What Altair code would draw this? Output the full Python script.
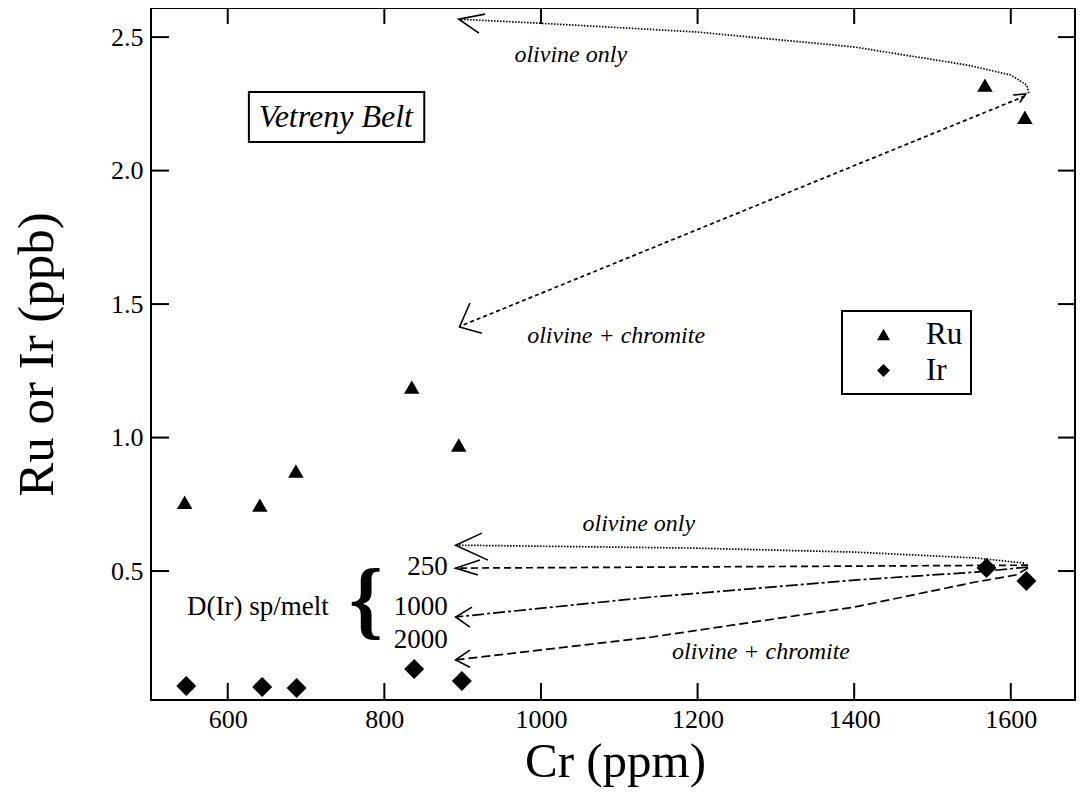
import altair as alt
import pandas as pd

# ---------------- data ----------------
ru_cr = [545, 641, 687, 835, 895, 1567, 1618]
ru_ppb = [0.758, 0.747, 0.875, 1.189, 0.972, 2.320, 2.200]
ir_cr = [547, 644, 688, 838, 899, 1569, 1620]
ir_ppb = [0.069, 0.066, 0.062, 0.133, 0.088, 0.511, 0.463]

x_ticks = [600, 800, 1000, 1200, 1400, 1600]
y_ticks = [0.5, 1.0, 1.5, 2.0, 2.5]
x_domain = [502, 1682]
y_domain = [0.017, 2.609]

# model paths (Cr ppm, ppb)
path_ru_olivine = [[1623, 2.290], [1620.5, 2.320], [1600, 2.358], [1545, 2.395],
                   [1400, 2.463], [1200, 2.519], [999, 2.552], [895, 2.567]]
path_ru_chromite = [[1618, 2.279], [896, 1.416]]
path_ir_olivine = [[1617, 0.530], [1555, 0.549], [1400, 0.571], [1194, 0.586], [891, 0.597]]
path_ir_250 = [[1622, 0.522], [1300, 0.517], [891, 0.511]]
path_ir_1000 = [[1622, 0.515], [1555, 0.496], [1400, 0.466], [1142, 0.403], [891, 0.328]]
path_ir_2000 = [[1622, 0.511], [1606, 0.485], [1555, 0.459], [1400, 0.365], [1142, 0.253], [891, 0.167]]

# arrow heads: barb, tip, barb
heads = [
    [[928.5, 2.586], [895, 2.567], [920.8, 2.515]],
    [[909.3, 1.504], [896, 1.414], [924.6, 1.391]],
    [[1603, 2.283], [1619, 2.287], [1611.5, 2.255]],
    [[924.6, 0.642], [891, 0.597], [932.3, 0.541]],
    [[922.1, 0.541], [891, 0.511], [919.5, 0.485]],
    [[911.9, 0.365], [891, 0.328], [909.3, 0.290]],
    [[909.3, 0.204], [891, 0.167], [909.3, 0.140]],
]

italic_labels = ["olivine only", "olivine + chromite", "olivine only", "olivine + chromite"]
italic_x = [1038, 1096, 1125, 1281]
italic_y = [2.406, 1.354, 0.650, 0.170]

d_labels = ["250", "1000", "2000"]
d_x = [881, 881, 881]
d_y = [0.515, 0.365, 0.242]

FONT = "Liberation Serif"
W, H = 924, 692

xs = alt.Scale(domain=x_domain, nice=False, zero=False)
ys = alt.Scale(domain=y_domain, nice=False, zero=False)
shape_scale = alt.Scale(domain=["Ru", "Ir"], range=["triangle-up", "diamond"])

x_axis = alt.Axis(
    values=x_ticks, format="d", title="Cr (ppm)", labelPadding=6,
    labelFont=FONT, labelFontSize=26, labelColor="black",
    titleFont=FONT, titleFontSize=49, titleFontWeight="normal", titleColor="black",
    titleX=W / 2 + 2, titleY=76, titleBaseline="alphabetic", titleAlign="center")
y_axis = alt.Axis(
    values=y_ticks, format=".1f", title="Ru or Ir (ppb)", labelPadding=8,
    labelFont=FONT, labelFontSize=26, labelColor="black",
    titleFont=FONT, titleFontSize=51, titleFontWeight="normal", titleColor="black",
    titleX=-99, titleY=346, titleAngle=270, titleBaseline="alphabetic",
    titleAlign="center")
legend = alt.Legend(title=None, orient="none", legendX=691, legendY=303,
                    strokeColor="black", fillColor="white", padding=8,
                    labelFont=FONT, labelFontSize=31, labelColor="black",
                    symbolSize=170, symbolOffset=18, labelOffset=27,
                    rowPadding=4, symbolFillColor="black", symbolStrokeColor="black")


def X():
    return alt.X("x:Q", scale=xs, axis=x_axis)


def Y():
    return alt.Y("y:Q", scale=ys, axis=y_axis)


# ---------------- points ----------------
ru_df = pd.DataFrame({"x": ru_cr, "y": ru_ppb, "el": ["Ru"] * len(ru_cr)})
ir_df = pd.DataFrame({"x": ir_cr, "y": ir_ppb, "el": ["Ir"] * len(ir_cr)})

ru_pts = alt.Chart(ru_df).mark_point(filled=True, color="black", opacity=1, size=240).encode(
    x=X(), y=Y(), shape=alt.Shape("el:N", scale=shape_scale, legend=legend))
ir_pts = alt.Chart(ir_df).mark_point(filled=True, color="black", opacity=1, size=400).encode(
    x=X(), y=Y(), shape=alt.Shape("el:N", scale=shape_scale, legend=legend))

# ---------------- frame ticks (inward) ----------------
xt = pd.DataFrame({"x": x_ticks})
yt = pd.DataFrame({"y": y_ticks})
tick_layers = [
    alt.Chart(xt).mark_rule(color="black", strokeWidth=2).encode(
        x=X(), y=alt.value(H), y2=alt.value(H - 17)),
    alt.Chart(xt).mark_rule(color="black", strokeWidth=2).encode(
        x=X(), y=alt.value(0), y2=alt.value(16)),
    alt.Chart(yt).mark_rule(color="black", strokeWidth=2).encode(
        y=Y(), x=alt.value(0), x2=alt.value(18)),
    alt.Chart(yt).mark_rule(color="black", strokeWidth=2).encode(
        y=Y(), x=alt.value(W), x2=alt.value(W - 17)),
]


def path_df(path):
    return pd.DataFrame({"x": [p[0] for p in path], "y": [p[1] for p in path],
                         "i": list(range(len(path)))})


def line_layer(path, dash, width=1.7):
    kw = {"color": "black", "strokeWidth": width}
    if dash:
        kw["strokeDash"] = dash
    return alt.Chart(path_df(path)).mark_line(**kw).encode(x=X(), y=Y(), order="i:Q")


curves = [
    line_layer(path_ru_olivine, [1.5, 1.5]),
    line_layer(path_ru_chromite, [4, 3]),
    line_layer(path_ir_olivine, [1.5, 1.5]),
    line_layer(path_ir_250, [7, 4]),
    line_layer(path_ir_1000, [12, 3, 3, 3]),
    line_layer(path_ir_2000, [9, 4]),
]

head_rows = []
for k, h in enumerate(heads):
    for j, p in enumerate(h):
        head_rows.append({"x": p[0], "y": p[1], "h": k, "i": j})
head_layer = alt.Chart(pd.DataFrame(head_rows)).mark_line(color="black", strokeWidth=1.6).encode(
    x=X(), y=Y(), detail="h:N", order="i:Q")

# ---------------- text annotations ----------------
it_df = pd.DataFrame({"x": italic_x, "y": italic_y, "t": italic_labels})
italic_text = alt.Chart(it_df).mark_text(font=FONT, fontStyle="italic", fontSize=24,
                                         align="center", baseline="alphabetic", color="black").encode(
    x=X(), y=Y(), text="t:N")

d_df = pd.DataFrame({"x": d_x, "y": d_y, "t": d_labels})
d_text = alt.Chart(d_df).mark_text(font=FONT, fontSize=27, align="right", baseline="middle",
                                   color="black").encode(x=X(), y=Y(), text="t:N")

dlab_df = pd.DataFrame({"x": [638.6], "y": [0.365], "t": ["D(Ir) sp/melt"]})
dlab_text = alt.Chart(dlab_df).mark_text(font=FONT, fontSize=27, align="center", baseline="middle",
                                         color="black").encode(x=X(), y=Y(), text="t:N")

brace_df = pd.DataFrame({"x": [776.5], "y": [0.385], "t": ["{"]})
brace_text = alt.Chart(brace_df).mark_text(font=FONT, fontSize=86, fontWeight="bold",
                                           align="center", baseline="middle", color="black").encode(
    x=X(), y=Y(), text="t:N")

box_df = pd.DataFrame({"x": [627], "x2": [851], "y": [2.294], "y2": [2.107]})
box = alt.Chart(box_df).mark_rect(fill="white", stroke="black", strokeWidth=2).encode(
    x=X(), x2="x2:Q", y=Y(), y2="y2:Q")

title_df = pd.DataFrame({"x": [738], "y": [2.163], "t": ["Vetreny Belt"]})
title_text = alt.Chart(title_df).mark_text(font=FONT, fontStyle="italic", fontSize=32,
                                           align="center", baseline="alphabetic", color="black").encode(
    x=X(), y=Y(), text="t:N")

chart = alt.layer(
    ru_pts, ir_pts, *tick_layers, *curves, head_layer, box, title_text,
    italic_text, d_text, dlab_text, brace_text,
).properties(
    width=W, height=H,
    autosize=alt.AutoSizeParams(type="none"),
    padding={"left": 143, "top": 0, "right": 1, "bottom": 95},
).configure_view(
    stroke="black", strokeWidth=2,
).configure_axis(
    grid=False, ticks=False, domain=False, tickSize=0,
    labelFont=FONT, labelFontSize=26, labelColor="black",
).configure_legend(
    strokeWidth=2,
)

chart.save("out.html", embed_options={"renderer": "svg", "actions": False})
